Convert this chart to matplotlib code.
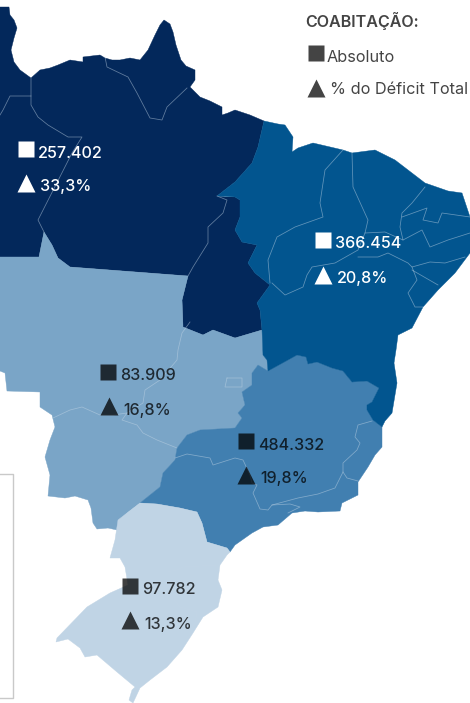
import matplotlib
matplotlib.use("Agg")
import matplotlib.pyplot as plt
from matplotlib.patches import Polygon

plt.rcParams['font.family'] = ['Inter', 'DejaVu Sans']

# Region outlines (map units)
north = [(0,7),(9,7),(10,15),(14,20),(17,28),(14,38),(11,50),(14,62),(20,70),(31,78),(40,70),(50,68),(58,65),(70,60),(83,62),(83,57),(100,55),(105,58),(112,60),(120,60),(130,58),(140,60),(148,50),(155,35),(160,25),(164,20),(170,24),(173,32),(176,45),(181,60),(186,66),(195,70),(195,80),(190,87),(200,97),(210,101),(222,107),(222,115),(228,113),(235,110),(250,115),(264,121),(258,147),(252,163),(235,182),(217,196),(225,197),(235,197),(240,200),(240,217),(235,230),(242,242),(257,245),(248,263),(255,273),(270,285),(257,303),(260,310),(262,330),(235,338),(213,330),(203,335),(183,327),(182,300),(188,276),(70,267),(58,258),(52,245),(44,232),(39,257),(0,257)]
acre_piece = [(0,298),(10,300),(8,313),(13,322),(7,333),(0,340)]
center_west = [(0,257),(39,257),(44,232),(52,245),(58,258),(70,267),(188,276),(182,300),(183,327),(203,335),(213,330),(235,338),(262,330),(263,355),(267,360),(268,371),(258,365),(252,373),(252,385),(242,392),(245,405),(238,413),(242,418),(235,428),(200,430),(187,435),(177,448),(175,460),(163,473),(160,487),(140,503),(127,513),(120,520),(117,530),(108,528),(97,529),(93,523),(91,508),(88,500),(75,496),(65,498),(48,496),(50,475),(45,457),(50,440),(55,427),(52,415),(40,407),(40,392),(7,391),(5,373),(0,371)]
southeast = [(175,460),(177,448),(187,435),(200,430),(235,428),(242,418),(238,413),(245,405),(242,392),(252,385),(252,373),(258,365),(268,371),(288,360),(297,355),(306,357),(308,364),(317,362),(332,368),(343,371),(352,382),(367,381),(379,388),(372,402),(367,405),(367,410),(373,420),(382,427),(382,447),(375,455),(368,467),(358,482),(358,495),(342,503),(340,511),(318,512),(305,511),(292,513),(278,525),(263,527),(252,533),(235,545),(230,552),(227,548),(207,542),(202,523),(197,512),(180,508),(157,504),(140,503),(160,487),(163,473)]
south = [(140,503),(157,504),(180,508),(197,512),(202,523),(207,542),(227,548),(230,552),(227,555),(220,565),(218,580),(222,590),(218,607),(203,617),(193,633),(182,650),(167,667),(150,680),(140,688),(133,703),(129,700),(132,690),(135,687),(117,672),(97,655),(85,657),(80,648),(68,639),(56,642),(57,638),(87,607),(110,593),(128,585),(125,567),(120,558),(110,558),(115,540),(118,520),(127,513)]
northeast = [(264,121),(278,124),(285,125),(293,137),(292,152),(298,148),(313,143),(343,150),(352,153),(375,150),(395,160),(425,183),(448,191),(462,193),(470,217),(470,253),(455,273),(438,290),(423,307),(412,328),(398,335),(396,350),(394,363),(397,383),(392,413),(385,421),(382,427),(373,420),(367,410),(367,405),(372,402),(379,388),(367,381),(352,382),(343,371),(332,368),(317,362),(308,364),(306,357),(297,355),(288,360),(268,371),(267,360),(263,355),(262,330),(260,310),(257,303),(270,285),(255,273),(248,263),(257,245),(242,242),(235,230),(240,217),(240,200),(235,197),(217,196),(235,182),(252,163),(258,147)]

# State borders (map units)
borders = [
    [(105,57),(107,67),(128,77),(137,93),(150,118),(162,120),(167,107),(187,88)],
    [(31,78),(31,105),(38,117),(48,125),(68,137),(82,137),(72,153),(38,220),(44,232)],
    [(31,96),(10,96),(3,110),(0,115)],
    [(217,196),(227,200),(223,213),(208,227),(208,243),(193,267),(188,276)],
    [(190,322),(182,333),(178,350),(177,360),(160,380),(145,390),(143,403),(127,413),(122,420),(137,425),(143,433),(157,440),(177,448)],
    [(53,418),(70,410),(82,407),(100,415),(113,415),(127,413)],
    [(227,378),(242,378),(242,387),(225,387),(227,378)],
    [(175,458),(187,454),(210,458),(213,465),(235,458),(243,460),(250,475),(252,483),(257,485),(253,493),(260,509),(268,510),(272,505),(298,498),(318,494),(335,488),(343,472),(343,463),(357,450),(360,443),(355,437),(358,425),(372,421)],
    [(343,472),(347,478),(358,481)],
    [(272,505),(290,504),(300,507),(288,513)],
    [(133,572),(167,572),(177,570),(183,567),(218,565)],
    [(170,595),(180,607),(197,612),(195,623),(190,630)],
    [(343,150),(325,170),(320,203),(323,217),(295,227),(277,237),(268,260),(270,283)],
    [(352,153),(353,187),(368,220),(365,233),(358,250),(335,263),(312,267),(307,275),(303,287),(285,295),(272,283)],
    [(365,233),(385,232),(403,240),(422,230),(430,247),(448,240),(470,233)],
    [(425,187),(412,203),(402,213),(400,227),(403,240)],
    [(402,217),(427,208),(423,220),(438,223),(442,213),(470,217)],
    [(358,257),(378,257),(388,253),(408,263),(412,267),(430,262),(445,263),(465,257)],
    [(412,267),(417,280),(408,293),(415,307),(423,307)],
    [(412,270),(438,285)],
]

regions = [north, acre_piece, center_west, southeast, south, northeast]
region_colors = ['#03285B', '#03285B', '#7AA5C7', '#417FB0', '#C0D4E5', '#02558F']

# Labels
absolute_labels = ['257.402', '366.454', '83.909', '484.332', '97.782']
share_labels = ['33,3%', '20,8%', '16,8%', '19,8%', '13,3%']
square_pos = [(26,149),(323,240),(108,372),(246,441),(130,586)]
triangle_pos = [(26,183),(323,275),(109,406),(246,475),(130,620)]
absolute_text_x = [38,335,120,258,142]
share_text_x = [40,337,123,260,144]
label_colors = ['white', 'white', 'black', 'black', 'black']
label_alpha = [1, 1, 0.75, 0.75, 0.75]

legend_title = 'COABITAÇÃO:'
legend_absolute = 'Absoluto'
legend_share = '% do Déficit Total'

fig = plt.figure(figsize=(4.70, 7.03), dpi=100)
ax = fig.add_axes([0, 0, 1, 1])
ax.set_xlim(0, 470)
ax.set_ylim(703, 0)
ax.axis('off')

for poly, c in zip(regions, region_colors):
    ax.add_patch(Polygon(poly, closed=True, facecolor=c, edgecolor=c, linewidth=0.3, zorder=1))
for b in borders:
    xs, ys = zip(*b)
    ax.plot(xs, ys, color='#C4D6E6', alpha=0.5, lw=0.55, zorder=2, solid_joinstyle='round')

# Frame fragment at left
ax.plot([0, 13, 13, 0], [474, 474, 698, 698], color='#C9C9C9', lw=1, zorder=2)

SQ = 11.8
TRI = 13.2
FS = 11.6
for i in range(len(absolute_labels)):
    c, a = label_colors[i], label_alpha[i]
    ax.plot(*square_pos[i], marker='s', ms=SQ, mfc=c, mec='none', alpha=a, zorder=3, ls='none')
    ax.plot(*triangle_pos[i], marker='^', ms=TRI, mfc=c, mec='none', alpha=a, zorder=3, ls='none')
    ax.text(absolute_text_x[i], square_pos[i][1] + 4, absolute_labels[i], color=c, alpha=a,
            fontsize=FS, fontweight='medium', va='center', ha='left', zorder=4)
    ax.text(share_text_x[i], triangle_pos[i][1] + 4, share_labels[i], color=c, alpha=a,
            fontsize=FS, fontweight='medium', va='center', ha='left', zorder=4)

ax.text(305, 20.5, legend_title, color='#444444', fontsize=11.6, fontweight='semibold', va='center', ha='left')
ax.plot(315.5, 53, marker='s', ms=SQ, mfc='#444444', mec='none', ls='none')
ax.text(327, 57, legend_absolute, color='#444444', fontsize=11.7, va='center', ha='left')
ax.plot(316, 88, marker='^', ms=TRI, mfc='#444444', mec='none', ls='none')
ax.text(330, 90, legend_share, color='#444444', fontsize=11.7, va='center', ha='left')

fig.savefig('out.png', dpi=100)
